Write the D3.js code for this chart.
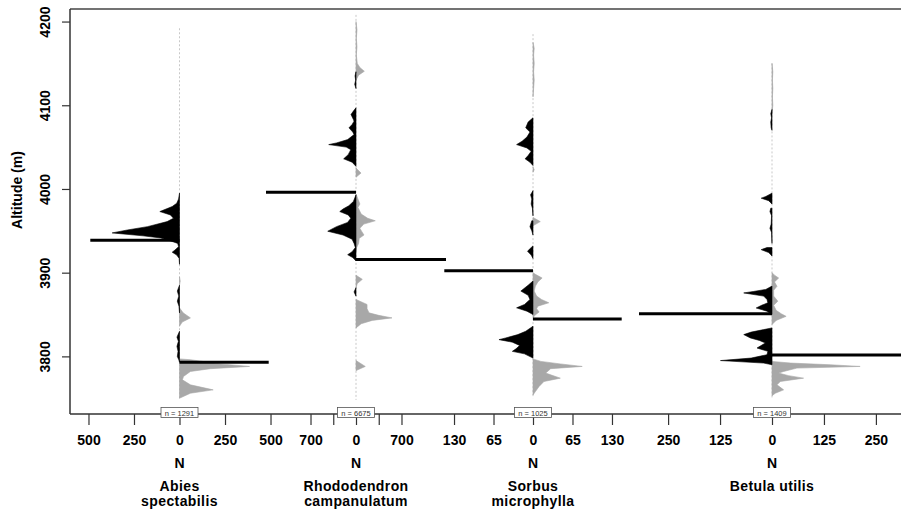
<!DOCTYPE html>
<html>
<head>
<meta charset="utf-8">
<script src="https://cdn.jsdelivr.net/npm/d3@7"></script>
<style>
  body { margin: 0; background: #fff; }
  svg text { font-family: "Liberation Sans", Arial, sans-serif; }
</style>
</head>
<body>
<div id="chart"></div>
<script>
// species names (one entry per label line)
const species = [["Abies", "spectabilis"], ["Rhododendron", "campanulatum"], ["Sorbus", "microphylla"], ["Betula utilis"]];
const sampleN = [1291, 6675, 1025, 1409];
// half-width of each panel in N units
const xMax = [490, 1385, 146, 320];
const xTicks = [[-500, -250, 0, 250, 500], [-700, -350, 0, 350, 700], [-130, -65, 0, 65, 130], [-250, -125, 0, 125, 250]];
const xTickLabels = [["500", "250", "0", "250", "500"], ["700", "", "0", "", "700"], ["130", "65", "0", "65", "130"], ["250", "125", "0", "125", "250"]];
const yTicks = [3800, 3900, 4000, 4100, 4200];
// altitude of the horizontal bars (black = left side, grey = right side)
const blackMean = [3938.7, 3996, 3902.4, 3851];
const greyMean = [3793, 3915.6, 3844.7, 3801.5];
// altitude range of the sampled transect in each panel
const topAlt = [4192, 4208, 4185, 4150];
const bottomAlt = [3748, 3748, 3750, 3750];

// [altitude, N] – left (black) side
const blackCounts = [
  [[3995, 0], [3988, 5], [3983, 15], [3979, 40], [3973, 108], [3969, 50], [3965, 33], [3961, 68], [3955, 176], [3951, 286], [3947.5, 370], [3944, 200], [3941.5, 104], [3938, 50], [3935, 10], [3931, 5], [3927, 25], [3924.5, 40], [3921, 15], [3917, 2], [3910, 0],
   [3885, 0], [3878, 12], [3872, 4], [3866, 12], [3860, 3], [3852, 0],
   [3830, 0], [3823, 14], [3818, 6], [3812, 14], [3806, 8], [3800, 12], [3796, 4], [3793, 0]],
  [[4140, 0], [4135, 15], [4130, 5], [4125, 20], [4120, 0],
   [4097, 0], [4093, 40], [4089, 77], [4083, 40], [4081, 30], [4077, 60], [4073, 108], [4068, 50], [4065, 30], [4059, 128], [4055, 300], [4053, 420], [4050, 150], [4047, 80], [4041, 120], [4036, 190], [4032, 60], [4027, 0],
   [3993, 0], [3985, 40], [3980, 110], [3976, 200], [3973, 250], [3969, 120], [3965, 80], [3960, 130], [3955, 300], [3949.5, 435], [3945, 200], [3940, 60], [3935, 30], [3930, 10], [3925, 60], [3921.5, 128], [3918, 50], [3914, 0],
   [3882, 0], [3877, 30], [3872, 0]],
  [[4085, 0], [4080, 8], [4073, 12], [4068, 5], [4062, 10], [4057, 18], [4053, 27], [4049, 10], [4045, 3], [4040, 8], [4036, 13], [4032, 5], [4028, 0],
   [3998, 0], [3993, 4], [3988, 2], [3982, 3], [3977, 1], [3968, 0], [3962, 2], [3955, 5], [3950, 2], [3945, 0], [3932, 0], [3928, 6], [3925.5, 9], [3921, 3], [3917, 0],
   [3890, 0], [3885, 8], [3878, 20], [3873, 8], [3868, 5], [3862, 14], [3858, 27], [3854, 10], [3850, 0],
   [3836, 0], [3830, 12], [3826, 25], [3822, 45], [3820, 56], [3817, 34], [3813, 22], [3809, 28], [3806, 34], [3803, 14], [3798, 0]],
  [[4095, 0], [4090, 3], [4085, 1], [4080, 3], [4073, 2], [4070, 0],
   [3995, 0], [3991, 15], [3989, 26], [3986, 8], [3982, 0], [3977, 3], [3973, 5], [3968, 1], [3958, 2], [3953, 5], [3948, 1], [3935, 0], [3930, 12], [3927.5, 26], [3924, 8], [3920, 0],
   [3884, 0], [3880, 15], [3877.5, 45], [3875.8, 68], [3872, 20], [3868, 12], [3864, 10], [3861, 25], [3857.8, 38], [3854, 12], [3850, 0],
   [3834, 0], [3832, 20], [3829, 50], [3826, 68], [3822, 52], [3819, 30], [3816, 16], [3810, 36], [3806, 10], [3802, 12], [3798, 50], [3795, 124], [3792, 20], [3790, 0]]
];

// [altitude, N] – right (grey) side
const greyCounts = [
  [[3895, 0], [3890, 4], [3885, 0],
   [3858, 0], [3852, 20], [3846, 60], [3841, 15], [3836, 0],
   [3797, 0], [3796, 60], [3791, 225], [3788, 385], [3785.3, 170], [3782, 60], [3776, 22], [3772, 16], [3766, 60], [3760, 185], [3756, 60], [3750, 0]],
  [[4200, 0], [4190, 15], [4180, 5], [4170, 15], [4160, 5], [4150, 20], [4145, 60], [4140.6, 128], [4136, 40], [4130, 0],
   [4025, 0], [4019, 77], [4014, 0],
   [3994, 0], [3988, 30], [3982, 60], [3978, 30], [3970, 80], [3965, 180], [3962, 297], [3958, 120], [3953, 60], [3949, 90], [3945, 123], [3941, 50], [3935, 40], [3930, 10], [3925, 0],
   [3897, 0], [3892, 97], [3887, 20], [3882, 0],
   [3868, 0], [3862, 170], [3857, 170], [3852, 200], [3849, 350], [3846, 554], [3843, 250], [3839, 80], [3834, 0],
   [3795, 0], [3788, 143], [3783, 0]],
  [[4175, 0], [4168, 2], [4160, 1], [4150, 2], [4140, 1], [4130, 2], [4120, 1], [4110, 0],
   [4026, 0], [4023, 2], [4020, 0],
   [3966, 0], [3961, 12], [3956, 0],
   [3900, 0], [3898, 4], [3893.6, 15], [3889, 8], [3884, 4], [3878, 2], [3872, 6], [3868, 14], [3864, 26], [3860, 8], [3857, 6], [3853, 10], [3849, 3], [3846, 0],
   [3797, 0], [3794, 13], [3791, 45], [3788, 81], [3785.3, 29], [3780, 21], [3774, 45], [3770, 18], [3764, 10], [3758, 4], [3754, 0]],
  [[4150, 0], [4140, 2], [4130, 1], [4120, 2], [4110, 1], [4100, 2], [4090, 0],
   [3900, 0], [3897, 6], [3893.6, 16], [3889, 6], [3883.7, 12], [3879, 4], [3872, 4], [3866, 14], [3861, 4], [3855, 10], [3851, 22], [3847.8, 34], [3843, 10], [3838, 0],
   [3794, 0], [3792, 45], [3790, 140], [3788, 212], [3786, 60], [3782, 28], [3780, 16], [3777, 40], [3774, 76], [3770, 20], [3766, 12], [3760, 28], [3756, 8], [3753, 0]]
];

const width = 901, height = 515;
const plotLeft = 70, plotTop = 9, plotBottom = 414;
// pixel centre and half width of every panel
const centres = [179.5, 356, 533, 772];
const halfW = [89.2, 90, 88.7, 133];

const svg = d3.select("#chart").append("svg")
  .attr("width", width)
  .attr("height", height);

const y = d3.scaleLinear().domain([3732, 4215]).range([413.3, plotTop]);

// split a list of points into separate blobs at zero values
function blobs(points) {
  const out = [];
  let cur = [];
  points.forEach(p => {
    cur.push(p);
    if (p[1] === 0 && cur.length > 1) { out.push(cur); cur = []; }
    else if (p[1] === 0) { cur = [p]; }
  });
  if (cur.length > 1) out.push(cur);
  return out;
}

species.forEach((name, i) => {
  const x = d3.scaleLinear()
    .domain([-xMax[i], xMax[i]])
    .range([centres[i] - halfW[i], centres[i] + halfW[i]]);
  const g = svg.append("g");

  // faint centre line
  g.append("line")
    .attr("x1", x(0)).attr("x2", x(0))
    .attr("y1", y(topAlt[i])).attr("y2", y(bottomAlt[i]))
    .attr("stroke", "#c8c8c8")
    .attr("stroke-width", 1)
    .attr("stroke-dasharray", "2,2");

  const leftArea = d3.area()
    .y(d => y(d[0]))
    .x0(x(0))
    .x1(d => x(-d[1]));
  const rightArea = d3.area()
    .y(d => y(d[0]))
    .x0(x(0))
    .x1(d => x(d[1]));

  g.selectAll("path.grey")
    .data(blobs(greyCounts[i]))
    .enter().append("path")
    .attr("class", "grey")
    .attr("d", rightArea)
    .attr("fill", "#a8a8a8")
    .attr("stroke", "#a8a8a8")
    .attr("stroke-width", 0.6);

  g.selectAll("path.black")
    .data(blobs(blackCounts[i]))
    .enter().append("path")
    .attr("class", "black")
    .attr("d", leftArea)
    .attr("fill", "#000")
    .attr("stroke", "#000")
    .attr("stroke-width", 0.6);

  // horizontal bars
  g.append("line")
    .attr("x1", x(-xMax[i])).attr("x2", x(0))
    .attr("y1", y(blackMean[i])).attr("y2", y(blackMean[i]))
    .attr("stroke", "#000").attr("stroke-width", 3);
  g.append("line")
    .attr("x1", x(0)).attr("x2", x(xMax[i]))
    .attr("y1", y(greyMean[i])).attr("y2", y(greyMean[i]))
    .attr("stroke", "#000").attr("stroke-width", 3);

  // bottom axis
  const axis = d3.axisBottom(x)
    .tickValues(xTicks[i])
    .tickSize(11)
    .tickPadding(10)
    .tickFormat((d, k) => xTickLabels[i][k]);
  const ax = svg.append("g")
    .attr("transform", `translate(0,${plotBottom})`)
    .call(axis);
  ax.select(".domain").remove();
  ax.selectAll(".tick line").attr("stroke", "#333").attr("stroke-width", 1.2);
  ax.selectAll(".tick text")
    .attr("font-size", 14)
    .attr("font-weight", "bold")
    .attr("fill", "#000")
    .attr("font-family", "Liberation Sans, Arial, sans-serif");

  svg.append("text")
    .attr("x", x(0)).attr("y", 468)
    .attr("text-anchor", "middle")
    .attr("font-size", 14).attr("font-weight", "bold")
    .text("N");

  name.forEach((line, k) => {
    svg.append("text")
      .attr("x", x(0)).attr("y", 491 + k * 15)
      .attr("text-anchor", "middle")
      .attr("font-size", 14).attr("font-weight", "bold")
      .attr("letter-spacing", 0.4)
      .text(line);
  });
});

// frame
svg.append("line")
  .attr("x1", plotLeft).attr("x2", width)
  .attr("y1", plotTop).attr("y2", plotTop)
  .attr("stroke", "#444").attr("stroke-width", 1.5);
svg.append("line")
  .attr("x1", plotLeft).attr("x2", plotLeft)
  .attr("y1", plotTop).attr("y2", plotBottom)
  .attr("stroke", "#333").attr("stroke-width", 1.5);
svg.append("line")
  .attr("x1", plotLeft).attr("x2", width)
  .attr("y1", plotBottom).attr("y2", plotBottom)
  .attr("stroke", "#333").attr("stroke-width", 1.5);

// sample size boxes
sampleN.forEach((n, i) => {
  svg.append("rect")
    .attr("x", centres[i] - 18.5).attr("y", 407.5)
    .attr("width", 37).attr("height", 10)
    .attr("fill", "#fff")
    .attr("stroke", "#555").attr("stroke-width", 0.8);
  svg.append("text")
    .attr("x", centres[i]).attr("y", 415.5)
    .attr("text-anchor", "middle")
    .attr("font-size", 7.5)
    .attr("fill", "#333")
    .text(`n = ${n}`);
});

// y axis
const yAxis = d3.axisLeft(y).tickValues(yTicks).tickSize(8).tickFormat(d3.format("d"));
const yg = svg.append("g")
  .attr("transform", `translate(${plotLeft},0)`)
  .call(yAxis);
yg.select(".domain").remove();
yg.selectAll(".tick line").attr("stroke", "#333").attr("stroke-width", 1.2);
yg.selectAll(".tick text")
  .attr("font-size", 14)
  .attr("font-weight", "bold")
  .attr("fill", "#000")
  .attr("font-family", "Liberation Sans, Arial, sans-serif")
  .attr("text-anchor", "middle")
  .attr("dy", 0)
  .attr("transform", "rotate(-90)")
  .attr("x", 0)
  .attr("y", -20);

svg.append("text")
  .attr("transform", "translate(22,190) rotate(-90)")
  .attr("text-anchor", "middle")
  .attr("font-size", 14)
  .attr("font-weight", "bold")
  .text("Altitude (m)");
</script>
</body>
</html>
